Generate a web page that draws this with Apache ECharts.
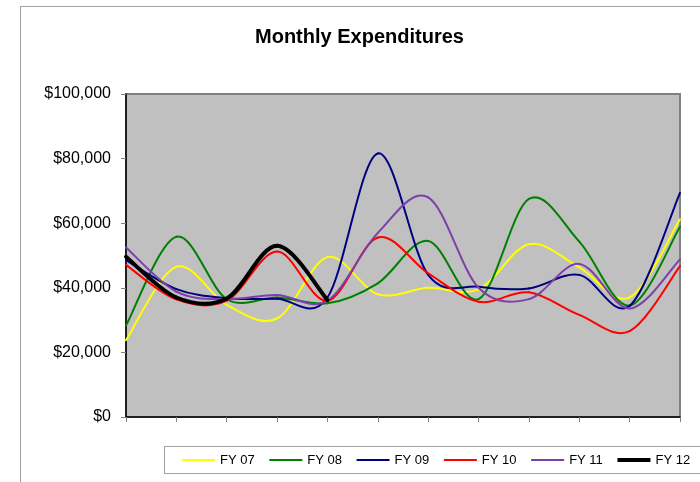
<!DOCTYPE html>
<html>
<head>
<meta charset="utf-8">
<script src="https://cdn.jsdelivr.net/npm/echarts@6/dist/echarts.min.js"></script>
<style>
html,body{margin:0;padding:0;background:#fff;}
#c{width:700px;height:482px;}
</style>
</head>
<body>
<div id="c"></div>
<script>
var months = ['Jul','Aug','Sep','Oct','Nov','Dec','Jan','Feb','Mar','Apr','May','Jun'];
var fy07 = [23800, 46500, 34700, 30500, 49500, 38000, 40000, 39500, 53500, 46300, 37000, 61200];
var fy08 = [28300, 55800, 36500, 37000, 35200, 41400, 54500, 36500, 67500, 54300, 34500, 58900];
var fy09 = [48600, 39600, 36800, 36600, 37000, 81600, 44000, 40300, 39800, 44000, 34400, 69400];
var fy10 = [47100, 36400, 36000, 51200, 36000, 55600, 44500, 35700, 38600, 31600, 26600, 46700];
var fy11 = [52500, 38800, 36500, 37800, 36000, 57000, 68000, 40000, 36500, 47400, 33600, 48800];
var fy12 = [49600, 37000, 36700, 53000, 36200];
var seriesNames = ['FY 07','FY 08','FY 09','FY 10','FY 11','FY 12'];
var seriesData = [fy07, fy08, fy09, fy10, fy11, fy12];
var colors = ['#FFFF00','#008000','#000080','#FF0000','#7D3FA8','#000000'];
var widths = [2, 2, 2, 2, 2, 4];

var chart = echarts.init(document.getElementById('c'));

function makeRender(k){
  var arr = seriesData[k];
  var n = arr.length;
  return function(params, api){
    var i = params.dataIndex;
    if (i >= n - 1) return null;
    var i0 = Math.max(i - 1, 0), i3 = Math.min(i + 2, n - 1);
    var p0 = api.coord([i0, arr[i0]]);
    var p1 = api.coord([i, arr[i]]);
    var p2 = api.coord([i + 1, arr[i + 1]]);
    var p3 = api.coord([i3, arr[i3]]);
    return {
      type: 'bezierCurve',
      shape: {
        x1: p1[0], y1: p1[1], x2: p2[0], y2: p2[1],
        cpx1: p1[0] + (p2[0] - p0[0]) / 6, cpy1: p1[1] + (p2[1] - p0[1]) / 6,
        cpx2: p2[0] - (p3[0] - p1[0]) / 6, cpy2: p2[1] - (p3[1] - p1[1]) / 6
      },
      style: {stroke: colors[k], lineWidth: widths[k], fill: null, lineCap: 'round'},
      z2: k
    };
  };
}

var series = seriesNames.map(function(n, k){
  return {
    name: n, type: 'custom',
    data: seriesData[k].map(function(v, i){ return [i, v]; }),
    encode: {x: 0, y: 1},
    renderItem: makeRender(k),
    itemStyle: {color: colors[k]},
    z: 10 + k
  };
});

var thin = 'path://M0,0 L33,0 L33,2 L0,2 Z';
var thick = 'path://M0,0 L33,0 L33,4 L0,4 Z';

chart.setOption({
  animation: false,
  backgroundColor: '#fff',
  title: {
    text: 'Monthly Expenditures', left: 250, top: 22,
    textStyle: {fontFamily: 'Liberation Sans, Arial, sans-serif', fontSize: 20, fontWeight: 'bold', color: '#000'}
  },
  graphic: [
    {type: 'rect', shape: {x: 20.5, y: 6.5, width: 720, height: 520}, style: {fill: 'none', stroke: '#a0a0a0', lineWidth: 1}, z: 0},
    {type: 'rect', shape: {x: 164.5, y: 446.5, width: 560, height: 27}, style: {fill: 'none', stroke: '#a0a0a0', lineWidth: 1}, z: 0}
  ],
  legend: {
    data: seriesNames.map(function(n, k){ return {name: n, icon: k === 5 ? thick : thin}; }),
    left: 182, top: 453.5, width: 600, padding: 0,
    itemWidth: 33, itemHeight: 8, itemGap: 14.6,
    textStyle: {fontFamily: 'Liberation Sans, Arial, sans-serif', fontSize: 13, color: '#000'}
  },
  grid: {
    left: 126, right: 20, top: 94, bottom: 65, show: true,
    backgroundColor: '#c0c0c0', borderColor: '#808080', borderWidth: 2
  },
  xAxis: {
    type: 'category', data: months, boundaryGap: false,
    axisLine: {lineStyle: {color: '#000', width: 1.5}},
    axisTick: {show: true, length: 5, lineStyle: {color: '#808080'}},
    axisLabel: {show: false},
    splitLine: {show: false}
  },
  yAxis: {
    type: 'value', min: 0, max: 100000, interval: 20000,
    axisLine: {show: true, lineStyle: {color: '#000', width: 1.5}},
    axisTick: {show: true, length: 5, lineStyle: {color: '#808080'}},
    splitLine: {show: false},
    axisLabel: {
      margin: 15, color: '#000', fontSize: 16, fontFamily: 'Liberation Sans, Arial, sans-serif',
      formatter: function(v){ return '$' + v.toString().replace(/\B(?=(\d{3})+(?!\d))/g, ','); }
    }
  },
  series: series
});
</script>
</body>
</html>
